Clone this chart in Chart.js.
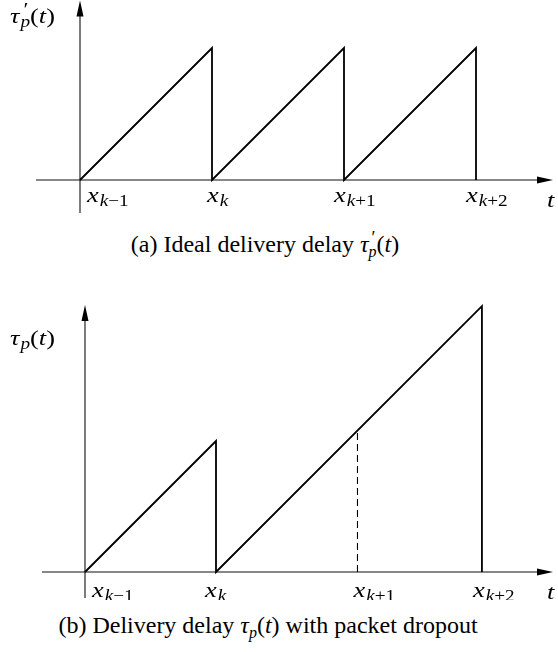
<!DOCTYPE html>
<html><head><meta charset="utf-8">
<script src="https://cdn.jsdelivr.net/npm/chart.js@4"></script>
<style>
html,body{margin:0;padding:0;background:#fff;width:558px;height:652px;overflow:hidden;}
.wrap{position:absolute;left:0;width:558px;}
#wa{top:0;height:215px}
#wb{top:300px;height:300px}
.cap{position:absolute;left:0;text-align:center;font-family:'Liberation Serif',serif;font-size:24px;line-height:24px;color:#000;white-space:nowrap}
.cap i{font-style:italic}
.cap sub{font-size:16px;vertical-align:-5px;line-height:0}
.cap sup{font-size:18px;vertical-align:8px;line-height:0}
</style></head>
<body>
<div class="wrap" id="wa"><canvas id="ca"></canvas></div>
<div class="cap" id="capA" style="top:232px;width:530px">(a) Ideal delivery delay <i>τ</i><sup style="margin-left:3px">′</sup><sub style="margin-left:-7px"><i>p</i></sub>(<i>t</i>)</div>
<div class="wrap" id="wb"><canvas id="cb"></canvas></div>
<div class="cap" id="capB" style="top:613px;width:536px">(b) Delivery delay <i>τ</i><sub><i>p</i></sub>(<i>t</i>) with packet dropout</div>
<script>
// ---- data ----
const tickBase = ['x', 'x', 'x', 'x'];
const tickSubs = ['k\u22121', 'k', 'k+1', 'k+2'];
// (a) ideal delivery delay
const idealTicks = [0, 1, 2, 3];
const idealT   = [0, 1, 1, 2, 2, 3, 3];
const idealTau = [0, 1, 0, 1, 0, 1, 0];
// (b) delivery delay with packet dropout
const dropTicks = [0, 1, 2.08, 3.03];
const dropT   = [0, 1, 1, 3.03, 3.03];
const dropTau = [0, 1, 0, 2.03, 0];
const missedT   = [2.08, 2.08];
const missedTau = [0, 1.08];

const pts = (xs, ys) => xs.map((v, i) => ({x: v, y: ys[i]}));
const FONT = '"Liberation Serif", serif';
const SX = 1.2; // horizontal stretch for math glyphs

function drawRuns(ctx, runs, x, y) {
  let cx = x;
  for (const r of runs) {
    ctx.font = (r.i ? 'italic ' : '') + r.s + 'px ' + FONT;
    const dx = (r.dx || 0);
    ctx.save();
    ctx.translate(cx + dx, y + (r.dy || 0));
    ctx.scale(SX, 1);
    ctx.fillText(r.t, 0, 0);
    ctx.restore();
    if (!r.stack) cx += ctx.measureText(r.t).width * SX + dx;
  }
}
function subRuns(base, sub) {
  const runs = [{t: base, i: 1, s: 22}];
  const m = sub.match(/^(k)(.*)$/);
  runs.push({t: m[1], i: 1, s: 16, dy: 4, dx: 1});
  if (m[2]) runs.push({t: m[2], i: 0, s: 16, dy: 4});
  return runs;
}

function diagramPlugin(cfg) {
  return {
    id: 'diagram',
    beforeDatasetsDraw(chart) {
      const {ctx, scales: {x, y}} = chart;
      const x0 = x.getPixelForValue(0), y0 = y.getPixelForValue(0);
      const xl = x.getPixelForValue(cfg.xFrom), xr = x.getPixelForValue(cfg.xTo);
      const yb = y.getPixelForValue(cfg.yFrom), yt = y.getPixelForValue(cfg.yTo);
      ctx.save();
      ctx.strokeStyle = '#111'; ctx.fillStyle = '#000'; ctx.lineWidth = 1.1;
      ctx.beginPath();
      ctx.moveTo(xl, y0); ctx.lineTo(xr - 12, y0);
      ctx.moveTo(x0, yb); ctx.lineTo(x0, yt + 12);
      ctx.stroke();
      ctx.beginPath();
      ctx.moveTo(xr, y0); ctx.lineTo(xr - 16, y0 - 3.5); ctx.lineTo(xr - 16, y0 + 3.5); ctx.closePath();
      ctx.moveTo(x0, yt); ctx.lineTo(x0 - 3.5, yt + 16); ctx.lineTo(x0 + 3.5, yt + 16); ctx.closePath();
      ctx.fill();
      ctx.restore();
    },
    afterDatasetsDraw(chart) {
      const {ctx, scales: {x, y}} = chart;
      const y0 = y.getPixelForValue(0);
      ctx.save();
      ctx.fillStyle = '#000';
      ctx.textBaseline = 'alphabetic';
      cfg.ticks.forEach((v, i) => {
        const px = x.getPixelForValue(v) + cfg.tickOffsets[i];
        drawRuns(ctx, subRuns(tickBase[i], tickSubs[i]), px, y0 + cfg.tickDy);
      });
      drawRuns(ctx, [{t: 't', i: 1, s: 22}], x.getPixelForValue(cfg.xTo) - 6, y0 + cfg.tDy);
      drawRuns(ctx, cfg.yLabel, cfg.yLabelX, cfg.yLabelY);
      ctx.restore();
    }
  };
}

function makeChart(id, datasets, sc, plug) {
  return new Chart(document.getElementById(id), {
    type: 'line',
    data: {datasets},
    options: {
      responsive: true, maintainAspectRatio: false, animation: false,
      layout: {padding: 0},
      events: [],
      plugins: {legend: {display: false}, tooltip: {enabled: false}},
      elements: {point: {radius: 0}, line: {tension: 0}},
      scales: {
        x: {type: 'linear', display: false, min: sc.xmin, max: sc.xmax},
        y: {type: 'linear', display: false, min: sc.ymin, max: sc.ymax}
      }
    },
    plugins: [plug]
  });
}

const sawStyle = {borderColor: '#000', borderWidth: 1.8, fill: false, showLine: true, borderJoinStyle: 'miter', borderCapStyle: 'butt'};

makeChart('ca',
  [Object.assign({data: pts(idealT, idealTau)}, sawStyle)],
  {xmin: -80 / 132, xmax: 478 / 132, ymin: -35 / 132, ymax: 180 / 132},
  diagramPlugin({
    xFrom: -44 / 132, xTo: 473 / 132, yFrom: -33 / 132, yTo: 179.5 / 132,
    ticks: idealTicks, tickOffsets: [7, -5, -10, -10], tickDy: 22, tDy: 27,
    yLabel: [{t: 'τ', i: 1, s: 22}, {t: '′', i: 0, s: 19, dy: -7, dx: 4, stack: 1}, {t: 'p', i: 1, s: 16, dy: 4, dx: 1}, {t: '(', s: 22}, {t: 't', i: 1, s: 22}, {t: ')', s: 22}],
    yLabelX: 10, yLabelY: 23
  })
);

makeChart('cb',
  [Object.assign({data: pts(dropT, dropTau)}, sawStyle),
   {data: pts(missedT, missedTau), borderColor: '#000', borderWidth: 1.1, borderDash: [7, 4], fill: false, showLine: true}],
  {xmin: -85 / 131, xmax: 473 / 131, ymin: -28 / 131, ymax: 272 / 131},
  diagramPlugin({
    xFrom: -43 / 131, xTo: 468 / 131, yFrom: -26 / 131, yTo: 267 / 131,
    ticks: dropTicks, tickOffsets: [7, -11, -4, -9], tickDy: 25, tDy: 27,
    yLabel: [{t: 'τ', i: 1, s: 22}, {t: 'p', i: 1, s: 16, dy: 4, dx: 1}, {t: '(', s: 22}, {t: 't', i: 1, s: 22}, {t: ')', s: 22}],
    yLabelX: 10, yLabelY: 45
  })
);
</script>
</body></html>
